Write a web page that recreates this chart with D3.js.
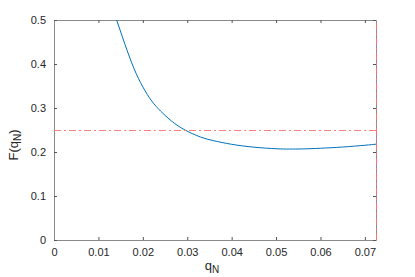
<!DOCTYPE html>
<html><head><meta charset="utf-8">
<script src="https://cdn.jsdelivr.net/npm/d3@7"></script>
<style>body{margin:0;background:#fff}svg{display:block}text{font-family:"Liberation Sans",Arial,sans-serif}</style>
</head><body>
<svg id="c" width="415" height="277"></svg>
<script>
const qN = [0.0141,0.0160,0.0180,0.0200,0.0220,0.0240,0.0265,0.0295,0.0330,0.0360,0.0400,0.0450,0.0500,0.0530,0.0560,0.0600,0.0650,0.0700,0.0725];
const F  = [0.500,0.444,0.390,0.348,0.316,0.293,0.270,0.250,0.234,0.2255,0.2175,0.2110,0.2074,0.2067,0.2070,0.2085,0.2113,0.2153,0.2178];
const xTicks = [0,0.01,0.02,0.03,0.04,0.05,0.06,0.07];
const yTicks = [0,0.1,0.2,0.3,0.4,0.5];
const refF = 0.25, refQ = 0.0725;

const svg = d3.select("#c");
const m = {l:54,t:20,r:376,b:240};
const x = d3.scaleLinear().domain([0,0.0725]).range([m.l,m.r]);
const y = d3.scaleLinear().domain([0,0.5]).range([m.b,m.t]);
const axc = "#8a8a8a";
const fmt = d => d===0 ? "0" : d3.format(".2~f")(d);

svg.append("g").attr("transform",`translate(0,${m.b})`).call(d3.axisBottom(x).tickValues(xTicks).tickSizeInner(-3).tickSizeOuter(0).tickPadding(8).tickFormat(fmt));
svg.append("g").attr("transform",`translate(0,${m.t})`).call(d3.axisTop(x).tickValues(xTicks).tickSizeInner(-3).tickSizeOuter(0).tickFormat(""));
svg.append("g").attr("transform",`translate(${m.l},0)`).call(d3.axisLeft(y).tickValues(yTicks).tickSizeInner(-3).tickSizeOuter(0).tickPadding(8).tickFormat(d=>d===0?"0":d3.format(".1f")(d)));
svg.append("g").attr("transform",`translate(${m.r},0)`).call(d3.axisRight(y).tickValues(yTicks).tickSizeInner(-3).tickSizeOuter(0).tickFormat(""));
svg.selectAll(".domain").attr("stroke",axc);
svg.selectAll(".tick line").attr("stroke","#555");
svg.selectAll(".tick text").attr("fill","#262626").style("font-size","11px");

const line = d3.line().x((d,i)=>x(qN[i])).y((d,i)=>y(F[i])).curve(d3.curveNatural);
svg.append("path").attr("d",line(qN)).attr("fill","none").attr("stroke","#0072BD").attr("stroke-width",1);

svg.append("line").attr("x1",x(0)).attr("x2",x(refQ)).attr("y1",y(refF)+0.5).attr("y2",y(refF)+0.5)
  .attr("stroke","#ff7f7f").attr("stroke-width",1).attr("stroke-dasharray","7,3,2,3");
svg.append("line").attr("x1",x(refQ)+0.5).attr("x2",x(refQ)+0.5).attr("y1",y(0)).attr("y2",y(0.5))
  .attr("stroke","#ff6f6f").attr("stroke-width",1).attr("stroke-dasharray","7,3,2,3");

const xl = svg.append("text").attr("x",212).attr("y",270).attr("text-anchor","middle").attr("fill","#262626").style("font-size","13px");
xl.append("tspan").text("q");
xl.append("tspan").attr("dy",3).style("font-size","10px").text("N");

const yl = svg.append("text").attr("transform","translate(18,145) rotate(-90)").attr("text-anchor","middle").attr("fill","#262626").style("font-size","13px");
yl.append("tspan").text("F(q");
yl.append("tspan").attr("dy",3).style("font-size","10px").text("N");
yl.append("tspan").attr("dy",-3).text(")");
</script>
</body></html>
